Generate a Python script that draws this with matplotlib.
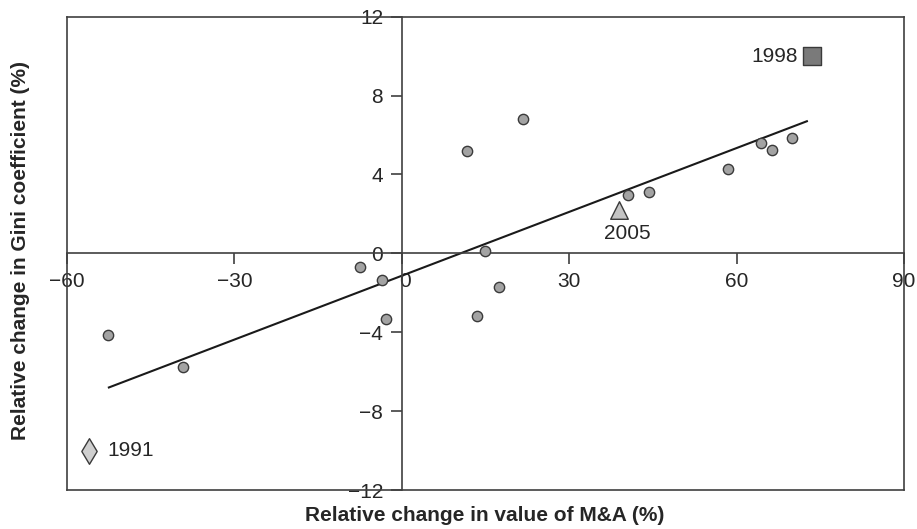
import matplotlib
matplotlib.use("Agg")
import matplotlib.pyplot as plt
from matplotlib.transforms import offset_copy

plt.rcParams["font.family"] = ["Liberation Sans", "DejaVu Sans"]

# Relative changes (%) per year: M&A value vs Gini coefficient
ma_change = [11.6, -7.5, -3.5, 21.7, 64.3, 66.4, 69.9, 58.5, 40.6, 44.3,
             14.9, 17.4, -52.7, -39.2, -2.9, 13.5]
gini_change = [5.2, -0.7, -1.35, 6.8, 5.6, 5.25, 5.85, 4.3, 2.95, 3.1,
               0.13, -1.7, -4.15, -5.75, -3.35, -3.2]

# highlighted years
y1998 = (73.5, 10.0)
y2005 = (38.9, 2.2)
y1991 = (-56.0, -10.0)

# linear trend, endpoints
trend_x = [-52.5, 72.6]
trend_y = [-6.8, 6.7]

x_ticks = [-60, -30, 0, 30, 60, 90]
y_ticks = [-12, -8, -4, 0, 4, 8, 12]

ink = "#262626"
edge = "#3a3a3a"

fig = plt.figure(figsize=(9.17, 5.29), dpi=100)
ax = fig.add_axes([0.0731, 0.0737, 0.9127, 0.8947])
ax.set_xlim(-60, 90)
ax.set_ylim(-12, 12)

for side in ["left", "bottom"]:
    ax.spines[side].set_position(("data", 0))
for side in ax.spines:
    ax.spines[side].set_color("#404040")
    ax.spines[side].set_linewidth(1.2)
# outer frame on the left and bottom
ax.axvline(-60, color="#404040", lw=1.2, clip_on=False)
ax.axhline(-12, color="#404040", lw=1.2, clip_on=False)

ax.set_xticks(x_ticks)
ax.set_yticks(y_ticks)
ax.set_xticklabels([f"\u2212{abs(v)}" if v < 0 else str(v) for v in x_ticks])
ax.set_yticklabels([f"\u2212{abs(v)}" if v < 0 else str(v) for v in y_ticks])
ax.tick_params(axis="both", direction="out", length=8, width=1.2,
               color="#404040", labelsize=15, labelcolor=ink)
ax.tick_params(axis="x", pad=5.5)
ax.tick_params(axis="y", pad=5.5)
# nudge the x "0" label slightly right of the vertical axis
for lbl in ax.get_xticklabels():
    if lbl.get_text() == "0":
        lbl.set_transform(offset_copy(lbl.get_transform(), fig=fig, x=3, y=0, units="dots"))

ax.plot(trend_x, trend_y, color="#1a1a1a", lw=1.5, zorder=2)

ax.scatter(ma_change, gini_change, s=55, c="#a3a3a3", edgecolors=edge,
           linewidths=1.0, zorder=3)
ax.scatter([y1998[0]], [y1998[1]], marker="s", s=150, c="#7a7a7a",
           edgecolors=edge, linewidths=1.0, zorder=3)
ax.scatter([y2005[0]], [y2005[1]], marker="^", s=160, c="#c4c4c4",
           edgecolors=edge, linewidths=1.0, zorder=3)
ax.scatter([y1991[0]], [y1991[1]], marker="d", s=170, c="#cfcfcf",
           edgecolors=edge, linewidths=1.0, zorder=3)

ax.annotate("1998", y1998, xytext=(-14, 0), textcoords="offset pixels",
            ha="right", va="center", fontsize=15, color=ink)
ax.annotate("2005", y2005, xytext=(8, -24), textcoords="offset pixels",
            ha="center", va="center", fontsize=15, color=ink)
ax.annotate("1991", y1991, xytext=(18, 0), textcoords="offset pixels",
            ha="left", va="center", fontsize=15, color=ink)

fig.text(0.529, 0.026, "Relative change in value of M&A (%)", ha="center",
         va="center", fontsize=15, fontweight="bold", color=ink)
fig.text(0.022, 0.527, "Relative change in Gini coefficient (%)", ha="center",
         va="center", rotation=90, fontsize=15, fontweight="bold", color=ink)

fig.savefig("out.png", dpi=100)
